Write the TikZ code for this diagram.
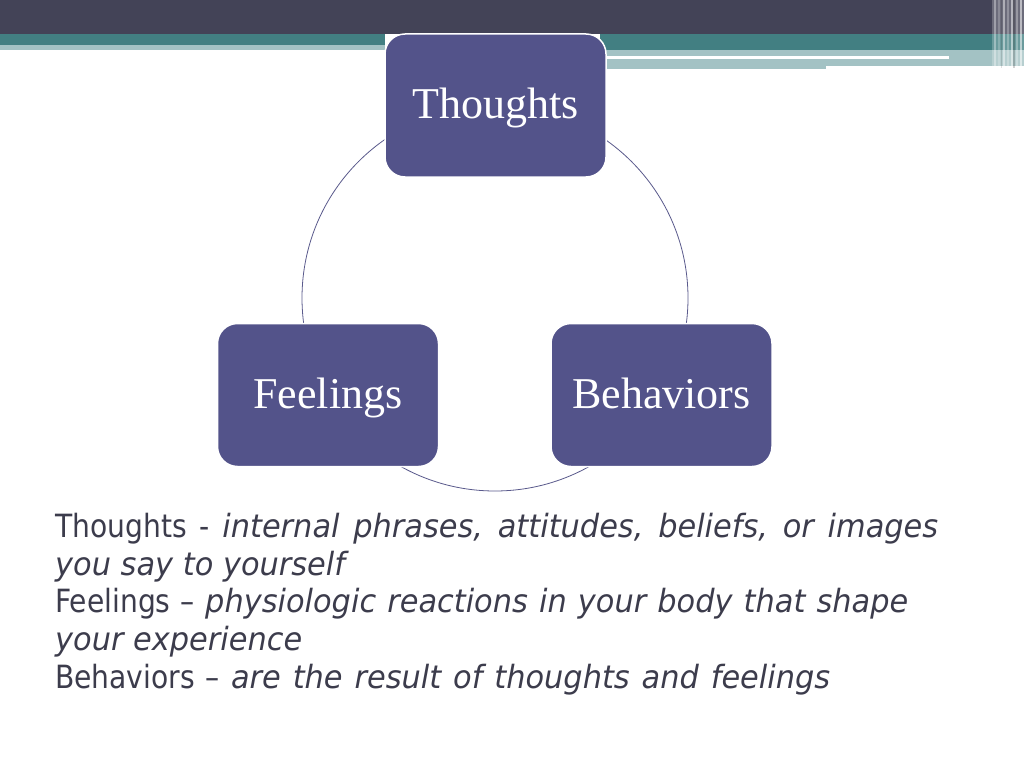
\documentclass[tikz,border=0pt]{standalone}
\usepackage{fontspec}
\setmainfont{Liberation Serif}
\newfontfamily\bodyfont{DejaVu Sans}[FakeStretch=0.88, ItalicFeatures={FakeStretch=0.95}]
\definecolor{barDark}{HTML}{434357}
\definecolor{barTeal}{HTML}{427F82}
\definecolor{barLight}{HTML}{A3C2C4}
\definecolor{boxFill}{HTML}{53538A}
\definecolor{ringCol}{HTML}{5A5A8C}
\definecolor{bodyText}{HTML}{3C3C4C}
\tikzset{
  cbox/.style={rectangle, rounded corners=20pt, minimum width=221pt, minimum height=143pt,
    fill=boxFill, draw=white, line width=1.5pt, text=white, font=\fontsize{44}{50}\selectfont,
    text height=31pt, text depth=5pt, inner sep=0pt},
  ring/.style={circle, draw=ringCol, line width=0.8pt, minimum size=386pt, inner sep=0pt},
  bodyline/.style={anchor=base west, inner sep=0pt, text=bodyText, font=\bodyfont\fontsize{32}{38}\selectfont}
}
\begin{document}
\begin{tikzpicture}[x=1pt,y=-1pt]
\useasboundingbox (0,0) rectangle (1024,768);
\fill[white] (0,0) rectangle (1024,768);
% banner
\fill[barDark] (0,0) rectangle (1024,34);
\fill[barTeal] (0,34) rectangle (385,45);
\fill[barLight] (0,45) rectangle (385,50);
\fill[barTeal] (600,34) rectangle (1024,50);
\fill[barLight] (600,50) rectangle (1024,66);
\fill[barLight] (600,66) rectangle (826,69);
\fill[white] (606,56) rectangle (949,59);
% right edge stripes
\fill[white, opacity=0.22] (992,0) rectangle (1024,68);
\foreach \xx/\op in {994/0.35,998/0.2,1003/0.45,1007/0.25,1011/0.5,1016/0.3,1020/0.55}
  \fill[white, opacity=\op] (\xx,0) rectangle (\xx+1.6,68);
\fill[black, opacity=0.18] (1013,0) rectangle (1014.5,68);
\fill[black, opacity=0.12] (1001,0) rectangle (1002,68);
% cycle
\node[ring] (cyc) at (495,298) {};
\node[cbox] (th) at (495.5,105.5) {Thoughts};
\node[cbox] (fe) at (328,395) {Feelings};
\node[cbox] (be) at (661.5,395) {Behaviors};
% text
\node[bodyline] (t1) at (55,537) {\makebox[883pt][s]{Thoughts - \textit{internal phrases, attitudes, beliefs, or images}}};
\node[bodyline] (t2) at (55,575) {\textit{you say to yourself}};
\node[bodyline] (t3) at (55,612) {\makebox[853pt][s]{Feelings – \textit{physiologic reactions in your body that shape}}};
\node[bodyline] (t4) at (55,650) {\textit{your experience}};
\node[bodyline] (t5) at (55,688) {\makebox[775pt][s]{Behaviors – \textit{are the result of thoughts and feelings}}};
\end{tikzpicture}
\end{document}
